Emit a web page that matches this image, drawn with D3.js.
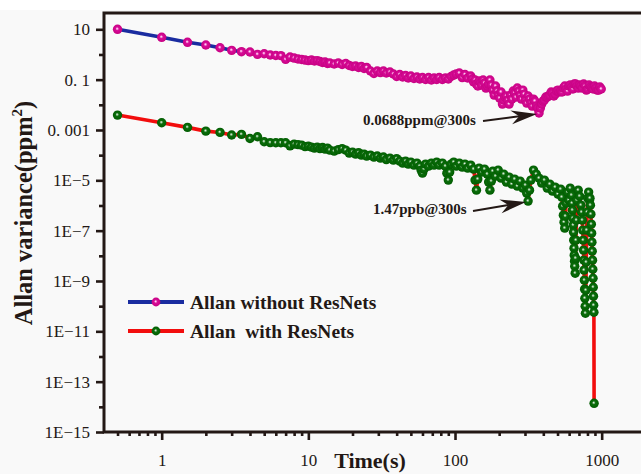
<!DOCTYPE html>
<html><head><meta charset="utf-8">
<script src="https://cdn.jsdelivr.net/npm/d3@7"></script>
<style>
body{margin:0;background:#f9f9f9;}
svg{display:block;}
</style>
</head><body>
<svg id="c" width="641" height="474"></svg>
<script>
// ---------------- data ----------------
const tauMag = [0.5,1,1.5,2,2.5,3,3.5,4,4.5,5,5.5,6,6.5,7,7.5,8,8.5,9,9.5,10,
  10.5,11,11.5,12,12.5,13,13.5,14,15,16,17,18,19,20,21,22,23,24,25,26.5,28,29.5,31,32.5,34,
  36,38,40,42,44,46,48,50,52.5,55,57.5,60,63,66,69,72,75,78,82,86,90,94,98,
  102,107,112,117,122,
  128,131,134,137,140,143,146,149,152,155.5,159,162.5,166,169.5,173,177,181,185,189,193,197,201.5,
  206,210.5,215,219.5,224,229,234,239,244,249.5,255,260.5,266,272,278,284,290,296,302,308.5,
  315,322,329,336,343,350.5,358,366,374,382,390,398.5,407,416,425,434,443,452.5,462,472,482,492.5,503,514,
  525,536.5,548,560,572,584.5,597,610,623,636.5,650,664,678,692.5,707,722.5,738,754,770,786.5,
  803,820.5,838,856.5,875,894,913,932.5,952,972.5,993];
const magValues = [10,4.81,3.04,2.38,1.85,1.46,1.29,1.25,1.01,1.07,0.95,0.91,0.9,0.64,0.79,0.72,0.66,0.63,0.6,0.57,
  0.6,0.55,0.57,0.525,0.479,0.5,0.436,0.457,0.417,0.457,0.398,0.436,0.364,0.332,0.348,0.303,0.332,0.276,0.303,0.22,0.175,0.22,0.191,0.22,0.183,
  0.2,0.167,0.133,0.16,0.127,0.146,0.116,0.139,0.111,0.127,0.106,0.121,0.101,0.121,0.0964,0.116,0.101,0.121,0.101,0.116,0.106,0.133,0.152,
  0.167,0.183,0.121,0.16,0.116,
  0.139,0.106,0.0804,0.0964,0.0668,0.0557,0.0879,0.0733,0.061,0.0964,0.0733,0.0463,0.0557,0.0668,0.0964,0.061,0.0385,0.0244,0.0557,0.0352,0.0244,0.0185,
  0.0322,0.0107,0.0155,0.0203,0.0223,0.0155,0.0107,0.0244,0.0169,0.0352,0.0293,0.0203,0.0463,0.0352,0.0244,0.0169,0.0385,0.0267,0.0155,0.0117,
  0.0223,0.0169,0.0117,0.00891,0.0169,0.0141,0.00891,0.00743,0.00473,0.00743,0.0107,0.0141,0.0155,0.0203,0.0203,0.0223,0.0244,0.0322,0.0293,0.0223,0.0267,0.0352,0.0385,0.0322,
  0.0352,0.0322,0.0463,0.0557,0.0423,0.0352,0.0557,0.061,0.0508,0.0423,0.0668,0.0668,0.0557,0.0463,0.061,0.0557,0.0463,0.0668,0.0557,0.0385,
  0.0423,0.061,0.0508,0.0463,0.0423,0.0557,0.0463,0.0385,0.0385,0.0508,0.0423];

const tauRes = [0.5,1,1.5,2,2.5,3,3.5,4,4.5,5,5.5,6,6.5,7,7.5,8,8.5,9,9.5,10,
  10.5,11,11.5,12,12.5,13,13.5,14,15,16,17,18,19,20,21,22,23,24,25,26.5,28,29.5,31,32.5,34,
  36,38,40,42,44,46,48,50,52.5,55,57.5,58.7,60,61.5,63,66,69,72,75,78,82,86,88,90,92,94,98,
  102,107,112,117,122,128,134,137,140,143,146,152,159,166,169.5,173,177,181,189,197,206,215,224,234,
  244,255,266,278,290,302,308,315,322,329,343,358,374,390,407,425,443,462,482,503,525,
  535,542,548,554,560,566,572,585,597,610,623,628,632,636,640,643,645,648,650,653,655,660,664,668,673,678,
  692,707,722,730,738,743,748,752,755,758,762,765,768,772,775,780,785,790,796,803,
  815,825,832,838,844,850,854,858,862,866,870,873,876,879,882,885,888];
const resValues = [3.91e-3,1.93e-3,1.27e-3,9.0e-4,8.0e-4,6.3e-4,6.7e-4,4.6e-4,5.4e-4,3.4e-4,3.15e-4,3.1e-4,3.1e-4,3.1e-4,2.35e-4,2.75e-4,2.63e-4,2.5e-4,2.19e-4,2.29e-4,
  2.09e-4,1.91e-4,2.09e-4,1.82e-4,2.0e-4,1.74e-4,1.91e-4,1.59e-4,1.45e-4,1.66e-4,1.82e-4,1.59e-4,1.21e-4,1.32e-4,1.1e-4,1.26e-4,1.0e-4,1.1e-4,9.2e-5,1.0e-4,8.4e-5,9.2e-5,7.6e-5,8.4e-5,6.65e-5,
  7.6e-5,6.35e-5,7.3e-5,5.8e-5,4.83e-5,5.8e-5,4.4e-5,5.3e-5,4.0e-5,4.83e-5,3.67e-5,2.55e-5,1.93e-5,2.79e-5,4.4e-5,3.67e-5,4.83e-5,4.0e-5,5.3e-5,4.0e-5,4.83e-5,3.67e-5,1.93e-5,1.02e-5,2.12e-5,4.4e-5,5.3e-5,
  3.67e-5,4.83e-5,3.35e-5,4.4e-5,3.05e-5,4.0e-5,2.79e-5,1.02e-5,4.07e-6,1.12e-5,3.05e-5,2.12e-5,2.79e-5,1.77e-5,8.5e-6,4.07e-6,9.3e-6,2.32e-5,1.47e-5,2.55e-5,1.22e-5,1.77e-5,8.5e-6,1.34e-5,
  7.06e-6,1.12e-5,5.87e-6,9.3e-6,4.9e-6,6.44e-6,3.1e-6,1.5e-6,4.07e-6,1.02e-5,2.55e-5,1.77e-5,1.22e-5,7.7e-6,1.02e-5,4.9e-6,7.06e-6,3.72e-6,5.36e-6,2.83e-6,4.47e-6,
  2.15e-6,9.4e-7,4.13e-7,2.18e-7,1.26e-7,3.78e-7,1.24e-6,3.4e-6,1.63e-6,4.9e-6,2.58e-6,1.24e-6,6.53e-7,3.14e-7,1.66e-7,8.7e-8,4.19e-8,2.01e-8,1.06e-8,6.12e-9,3.87e-9,2.04e-9,8.07e-9,4.19e-8,2.61e-7,1.63e-6,
  4.07e-6,2.35e-6,1.03e-6,5.44e-7,2.61e-7,1.05e-7,4.19e-8,1.68e-8,6.71e-9,2.69e-9,1.08e-9,4.72e-10,2.07e-10,9.95e-11,5.25e-11,4.31e-10,5.58e-9,1.05e-7,5.44e-7,1.96e-6,
  3.4e-6,1.63e-6,1.96e-6,1.03e-6,4.53e-7,1.81e-7,7.96e-8,3.49e-8,1.53e-8,6.71e-9,2.94e-9,1.29e-9,5.66e-10,2.49e-10,1.09e-10,5.75e-11,1.38e-14];

const xTickValues = [1,10,100,1000];
const xTickLabels = ["1","10","100","1000"];
const xMinorTicks = [0.5,0.6,0.7,0.8,0.9,2,3,4,5,6,7,8,9,20,30,40,50,60,70,80,90,200,300,400,500,600,700,800,900];
const yTickValues = [10,0.1,1e-3,1e-5,1e-7,1e-9,1e-11,1e-13,1e-15];
const yTickLabels = ["10","0. 1","0. 001","1E\u22125","1E\u22127","1E\u22129","1E\u221211","1E\u221213","1E\u221215"];
const yMinorTicks = [1,1e-2,1e-4,1e-6,1e-8,1e-10,1e-12,1e-14];
const seriesNames = ["Allan without ResNets","Allan  with ResNets"];
const annotationTexts = ["0.0688ppm@300s","1.47ppb@300s"];
const annotationTargets = [[374,0.00473],[315,1.5e-6]];

// ---------------- layout ----------------
const L = 104, R = 641, T = 13, B = 432;
const ink = "#231815";
const svg = d3.select("#c");

const x = d3.scaleLog().domain([0.4043, 1854]).range([L, R]);
const y = d3.scaleLog().domain([1e-15, Math.pow(10, 1.648)]).range([B, T]);

svg.append("rect").attr("x",0).attr("y",0).attr("width",641).attr("height",10).attr("fill","#ffffff");

const defs = svg.append("defs");
function grad(id, stops){
  const g = defs.append("radialGradient").attr("id", id)
    .attr("cx","0.5").attr("cy","0.5").attr("r","0.55").attr("fx","0.45").attr("fy","0.42");
  stops.forEach(s => g.append("stop").attr("offset", s[0]).attr("stop-color", s[1]));
}
grad("gM", [[0,"#fff0fa"],[0.16,"#f590d6"],[0.34,"#d80c98"],[1,"#c4007f"]]);
grad("gG", [[0,"#f0f6f0"],[0.16,"#8cbc8c"],[0.34,"#0b6e0b"],[1,"#005a00"]]);

// ---------------- axes ----------------
const axisG = svg.append("g");
const yMajor = d3.axisLeft(y).tickValues(yTickValues).tickSize(8).tickPadding(6)
  .tickFormat((d,i) => yTickLabels[i]);
const yMinor = d3.axisLeft(y).tickValues(yMinorTicks).tickSize(5).tickFormat("");
const xMajor = d3.axisBottom(x).tickValues(xTickValues).tickSize(8).tickPadding(14)
  .tickFormat((d,i) => xTickLabels[i]);
const xMinor = d3.axisBottom(x).tickValues(xMinorTicks).tickSize(4).tickFormat("");

function style(g){
  g.select(".domain").remove();
  g.selectAll("line").attr("stroke", ink).attr("stroke-width", 2.6);
  g.selectAll("text").attr("fill", ink).attr("font-family","'Liberation Serif','Times New Roman',serif")
    .attr("font-size", 17);
}
axisG.append("g").attr("transform",`translate(${L},0)`).call(yMajor).call(style);
axisG.append("g").attr("transform",`translate(${L},0)`).call(yMinor).call(style);
axisG.append("g").attr("transform",`translate(0,${B})`).call(xMajor).call(style);
axisG.append("g").attr("transform",`translate(0,${B})`).call(xMinor).call(style);

// frame
svg.append("path").attr("d", `M${R},${T}H${L}V${B}H${R}`)
  .attr("fill","none").attr("stroke", ink).attr("stroke-width", 3);

// axis titles
svg.append("text").attr("transform", `translate(32,213) rotate(-90)`)
  .attr("text-anchor","middle").attr("font-family","'Liberation Serif',serif")
  .attr("font-weight","bold").attr("font-size",24.5).attr("fill",ink)
  .call(t => { t.append("tspan").text("Allan variance(ppm");
               t.append("tspan").attr("dy",-10).attr("font-size",15).text("2");
               t.append("tspan").attr("dy",10).text(")"); });
svg.append("text").attr("x",370).attr("y",468).attr("text-anchor","middle")
  .attr("font-family","'Liberation Serif',serif").attr("font-weight","bold")
  .attr("font-size",22).attr("fill",ink).text("Time(s)");

// ---------------- series ----------------
const line = d3.line().x(d => x(d[0])).y(d => y(d[1]));
const series = [
  {tau: tauMag, vals: magValues, stroke: "#1a2ca0", fill: "url(#gM)"},
  {tau: tauRes, vals: resValues, stroke: "#f20d0d", fill: "url(#gG)"}
];
const R0 = 4.7;
series.forEach(s => {
  const pts = s.tau.map((t,i) => [t, s.vals[i]]);
  const g = svg.append("g");
  g.append("path").attr("d", line(pts)).attr("fill","none")
    .attr("stroke", s.stroke).attr("stroke-width", 3.6).attr("stroke-linejoin","round");
  g.selectAll("circle").data(pts).join("circle")
    .attr("cx", d => x(d[0])).attr("cy", d => y(d[1])).attr("r", R0)
    .attr("fill", s.fill);
});

// ---------------- legend ----------------
const lg = svg.append("g");
[[302, series[0]], [331, series[1]]].forEach(([ly, s], i) => {
  lg.append("line").attr("x1",128).attr("x2",184).attr("y1",ly).attr("y2",ly)
    .attr("stroke", s.stroke).attr("stroke-width", 4);
  lg.append("circle").attr("cx",156).attr("cy",ly).attr("r",4.4).attr("fill", s.fill);
  lg.append("text").attr("x",190).attr("y",ly+7).attr("font-family","'Liberation Serif',serif")
    .attr("font-weight","bold").attr("font-size",19.5).attr("fill",ink)
    .style("white-space","pre").text(seriesNames[i]);
});

// ---------------- annotations ----------------
const annPos = [{tx:363, ty:125, x0:483, y0:121}, {tx:373, ty:214, x0:473, y0:211}];
annPos.forEach((a, i) => {
  const tgt = annotationTargets[i];
  const x1 = x(tgt[0]) - 2, y1 = y(tgt[1]) + 1;
  svg.append("text").attr("x",a.tx).attr("y",a.ty).attr("font-family","'Liberation Serif',serif")
    .attr("font-weight","bold").attr("font-size",15).attr("fill",ink).text(annotationTexts[i]);
  const ang = Math.atan2(y1 - a.y0, x1 - a.x0);
  const c = Math.cos(ang), sn = Math.sin(ang);
  const hl = 26, hw = 7, notch = 18;
  const bx = x1 - c*notch, by = y1 - sn*notch;
  svg.append("line").attr("x1",a.x0).attr("y1",a.y0).attr("x2",bx).attr("y2",by)
    .attr("stroke",ink).attr("stroke-width",2);
  const p = [
    [x1, y1],
    [x1 - c*hl - sn*hw, y1 - sn*hl + c*hw],
    [bx, by],
    [x1 - c*hl + sn*hw, y1 - sn*hl - c*hw]
  ];
  svg.append("path").attr("d", "M" + p.map(q => q.join(",")).join("L") + "Z").attr("fill", ink);
});
</script>
</body></html>
